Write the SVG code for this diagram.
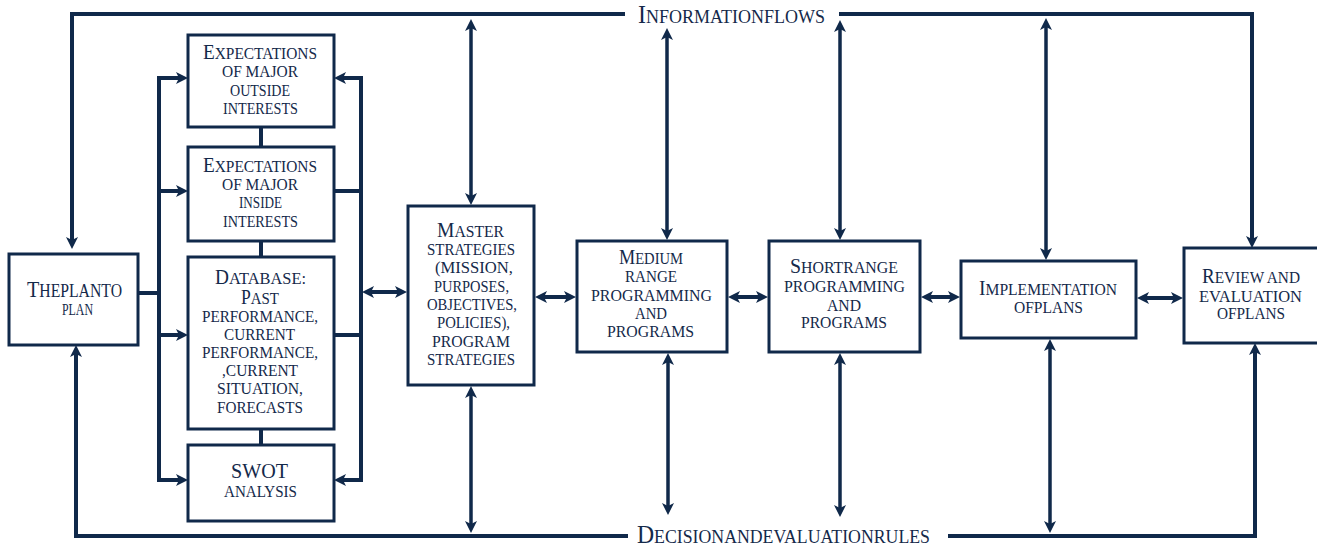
<svg xmlns="http://www.w3.org/2000/svg" width="1317" height="548" viewBox="0 0 1317 548">
  <style>
    .box { fill: #ffffff; stroke: #10294a; stroke-width: 3; }
    .t { font-family: "Liberation Serif", "Times New Roman", serif; fill: #14294a; text-anchor: middle; }
    .s { font-size: 16px; }
    .b { font-size: 20px; }
    .ln { fill: none; stroke: #10294a; stroke-width: 4; }
    .da { fill: none; stroke: #10294a; stroke-width: 3.5; }
  </style>
  <defs>
    <marker id="ah" markerUnits="userSpaceOnUse" markerWidth="12" markerHeight="13" viewBox="0 0 12 13" refX="5" refY="6.5" orient="auto-start-reverse">
      <path d="M0,0.5 L12,6.5 L0,12.5 L3,6.5 Z" fill="#10294a"/>
    </marker>
  </defs>

  <!-- connectors -->
  <g id="connectors">
    <!-- information flow loop (top) -->
    <path class="ln" d="M625,14 H72 V242" marker-end="url(#ah)"/>
    <path class="ln" d="M839,14 H1252 V241" marker-end="url(#ah)"/>
    <!-- decision rules loop (bottom) -->
    <path class="ln" d="M628,536 H76 V352" marker-end="url(#ah)"/>
    <path class="ln" d="M948,536 H1255 V350" marker-end="url(#ah)"/>

    <!-- left distribution bus -->
    <path class="ln" d="M138,293 H159"/>
    <path class="ln" d="M181,78 H159 V480 H181" marker-start="url(#ah)" marker-end="url(#ah)"/>
    <path class="ln" d="M159,191 H181" marker-end="url(#ah)"/>
    <path class="ln" d="M159,335 H181" marker-end="url(#ah)"/>

    <!-- right collection bus -->
    <path class="ln" d="M341,78 H361 V480 H341" marker-start="url(#ah)" marker-end="url(#ah)"/>
    <path class="ln" d="M334,191 H361"/>
    <path class="ln" d="M334,335 H361"/>
    <path class="ln" d="M369,292 H400" marker-start="url(#ah)" marker-end="url(#ah)"/>

    <!-- stack links -->
    <path class="ln" d="M261,127 V147 M261,241 V257 M261,429 V445"/>

    <!-- vertical two-way links -->
    <path class="da" d="M471,26 V198" marker-start="url(#ah)" marker-end="url(#ah)"/>
    <path class="da" d="M471,393 V526" marker-start="url(#ah)" marker-end="url(#ah)"/>
    <path class="da" d="M667,35 V233" marker-start="url(#ah)" marker-end="url(#ah)"/>
    <path class="da" d="M668,360 V508" marker-start="url(#ah)" marker-end="url(#ah)"/>
    <path class="da" d="M840,27 V233" marker-start="url(#ah)" marker-end="url(#ah)"/>
    <path class="da" d="M840,360 V510" marker-start="url(#ah)" marker-end="url(#ah)"/>
    <path class="da" d="M1046,25 V253" marker-start="url(#ah)" marker-end="url(#ah)"/>
    <path class="da" d="M1050,346 V526" marker-start="url(#ah)" marker-end="url(#ah)"/>

    <!-- horizontal two-way links -->
    <path class="ln" d="M542,297 H569" marker-start="url(#ah)" marker-end="url(#ah)"/>
    <path class="ln" d="M735,297 H761" marker-start="url(#ah)" marker-end="url(#ah)"/>
    <path class="ln" d="M928,297 H953" marker-start="url(#ah)" marker-end="url(#ah)"/>
    <path class="ln" d="M1144,298 H1176" marker-start="url(#ah)" marker-end="url(#ah)"/>
  </g>

  <!-- loop labels -->
  <g id="label-information">
    <text class="t" x="731.5" y="23" textLength="187" lengthAdjust="spacingAndGlyphs"><tspan style="font-size:26px">I</tspan><tspan style="font-size:19.5px">NFORMATIONFLOWS</tspan></text>
  </g>
  <g id="label-decision">
    <text class="t" x="783.5" y="543" textLength="293" lengthAdjust="spacingAndGlyphs"><tspan style="font-size:26px">D</tspan><tspan style="font-size:19.5px">ECISIONANDEVALUATIONRULES</tspan></text>
  </g>

  <g id="plan-to-plan">
    <rect class="box" x="9" y="254" width="129" height="91"/>
    <text class="t" x="74.5" y="297" textLength="95" lengthAdjust="spacingAndGlyphs"><tspan style="font-size:23px">T</tspan><tspan style="font-size:18px">HEPLANTO</tspan></text>
    <text class="t" x="77.5" y="315" textLength="31" lengthAdjust="spacingAndGlyphs" style="font-size:17px">PLAN</text>
  </g>

  <g id="outside-interests">
    <rect class="box" x="188" y="35" width="146" height="92"/>
    <text class="t" x="260" y="59" textLength="114" lengthAdjust="spacingAndGlyphs"><tspan class="b">E</tspan><tspan class="s">XPECTATIONS</tspan></text>
    <text class="t s" x="260" y="77" textLength="76" lengthAdjust="spacingAndGlyphs">OF MAJOR</text>
    <text class="t s" x="260" y="96" textLength="60" lengthAdjust="spacingAndGlyphs">OUTSIDE</text>
    <text class="t s" x="260.5" y="114" textLength="75" lengthAdjust="spacingAndGlyphs">INTERESTS</text>
  </g>

  <g id="inside-interests">
    <rect class="box" x="188" y="147" width="146" height="94"/>
    <text class="t" x="260" y="172" textLength="114" lengthAdjust="spacingAndGlyphs"><tspan class="b">E</tspan><tspan class="s">XPECTATIONS</tspan></text>
    <text class="t s" x="260" y="190" textLength="76" lengthAdjust="spacingAndGlyphs">OF MAJOR</text>
    <text class="t s" x="260.5" y="208" textLength="43" lengthAdjust="spacingAndGlyphs">INSIDE</text>
    <text class="t s" x="260.5" y="227" textLength="75" lengthAdjust="spacingAndGlyphs">INTERESTS</text>
  </g>

  <g id="database">
    <rect class="box" x="188" y="257" width="146" height="172"/>
    <text class="t" x="260.5" y="284" textLength="91" lengthAdjust="spacingAndGlyphs"><tspan style="font-size:20px">D</tspan><tspan style="font-size:17px">ATABASE:</tspan></text>
    <text class="t" x="260" y="304" textLength="38" lengthAdjust="spacingAndGlyphs"><tspan style="font-size:20px">P</tspan><tspan style="font-size:17px">AST</tspan></text>
    <text class="t" x="260" y="322" textLength="116" lengthAdjust="spacingAndGlyphs" style="font-size:17px">PERFORMANCE,</text>
    <text class="t" x="259.5" y="340" textLength="71" lengthAdjust="spacingAndGlyphs" style="font-size:17px">CURRENT</text>
    <text class="t" x="260" y="358" textLength="116" lengthAdjust="spacingAndGlyphs" style="font-size:17px">PERFORMANCE,</text>
    <text class="t" x="260" y="376" textLength="76" lengthAdjust="spacingAndGlyphs" style="font-size:17px">,CURRENT</text>
    <text class="t" x="260" y="394" textLength="86" lengthAdjust="spacingAndGlyphs" style="font-size:17px">SITUATION,</text>
    <text class="t" x="260" y="413" textLength="86" lengthAdjust="spacingAndGlyphs" style="font-size:17px">FORECASTS</text>
  </g>

  <g id="swot">
    <rect class="box" x="188" y="445" width="146" height="76"/>
    <text class="t" x="259.5" y="478" textLength="57" lengthAdjust="spacingAndGlyphs" style="font-size:22px">SWOT</text>
    <text class="t" x="260.5" y="497" textLength="73" lengthAdjust="spacingAndGlyphs" style="font-size:17.5px">ANALYSIS</text>
  </g>

  <g id="master-strategies">
    <rect class="box" x="408" y="206" width="126" height="179"/>
    <text class="t" x="470.5" y="237" textLength="67" lengthAdjust="spacingAndGlyphs"><tspan class="b">M</tspan><tspan class="s">ASTER</tspan></text>
    <text class="t s" x="471" y="255" textLength="88" lengthAdjust="spacingAndGlyphs">STRATEGIES</text>
    <text class="t s" x="474" y="273" textLength="78" lengthAdjust="spacingAndGlyphs">(MISSION,</text>
    <text class="t s" x="471.5" y="292" textLength="75" lengthAdjust="spacingAndGlyphs">PURPOSES,</text>
    <text class="t s" x="472" y="310" textLength="90" lengthAdjust="spacingAndGlyphs">OBJECTIVES,</text>
    <text class="t s" x="473.5" y="328" textLength="73" lengthAdjust="spacingAndGlyphs">POLICIES),</text>
    <text class="t s" x="471" y="347" textLength="78" lengthAdjust="spacingAndGlyphs">PROGRAM</text>
    <text class="t s" x="471" y="365" textLength="88" lengthAdjust="spacingAndGlyphs">STRATEGIES</text>
  </g>

  <g id="medium-range">
    <rect class="box" x="577" y="241" width="150" height="111"/>
    <text class="t" x="651" y="264" textLength="64" lengthAdjust="spacingAndGlyphs"><tspan class="b">M</tspan><tspan class="s">EDIUM</tspan></text>
    <text class="t s" x="651" y="282" textLength="52" lengthAdjust="spacingAndGlyphs">RANGE</text>
    <text class="t s" x="651.5" y="301" textLength="121" lengthAdjust="spacingAndGlyphs">PROGRAMMING</text>
    <text class="t s" x="651" y="319" textLength="32" lengthAdjust="spacingAndGlyphs">AND</text>
    <text class="t s" x="650.5" y="337" textLength="87" lengthAdjust="spacingAndGlyphs">PROGRAMS</text>
  </g>

  <g id="short-range">
    <rect class="box" x="769" y="241" width="151" height="111"/>
    <text class="t" x="844" y="273" textLength="108" lengthAdjust="spacingAndGlyphs"><tspan class="b">S</tspan><tspan class="s">HORTRANGE</tspan></text>
    <text class="t s" x="844.5" y="292" textLength="121" lengthAdjust="spacingAndGlyphs">PROGRAMMING</text>
    <text class="t s" x="844" y="311" textLength="34" lengthAdjust="spacingAndGlyphs">AND</text>
    <text class="t s" x="844" y="328" textLength="86" lengthAdjust="spacingAndGlyphs">PROGRAMS</text>
  </g>

  <g id="implementation">
    <rect class="box" x="961" y="261" width="175" height="77"/>
    <text class="t" x="1048" y="295" textLength="138" lengthAdjust="spacingAndGlyphs"><tspan class="b">I</tspan><tspan class="s">MPLEMENTATION</tspan></text>
    <text class="t s" x="1048.5" y="313" textLength="69" lengthAdjust="spacingAndGlyphs">OFPLANS</text>
  </g>

  <g id="review">
    <rect class="box" x="1184" y="248" width="140" height="95"/>
    <text class="t" x="1251" y="283" textLength="98" lengthAdjust="spacingAndGlyphs"><tspan class="b">R</tspan><tspan class="s">EVIEW AND</tspan></text>
    <text class="t s" x="1250.5" y="302" textLength="103" lengthAdjust="spacingAndGlyphs">EVALUATION</text>
    <text class="t s" x="1251" y="319" textLength="68" lengthAdjust="spacingAndGlyphs">OFPLANS</text>
  </g>
</svg>
